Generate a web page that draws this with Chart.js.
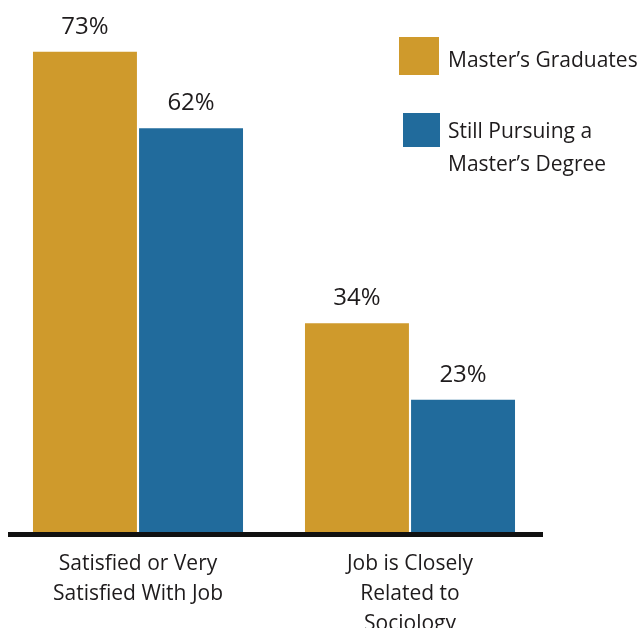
<!DOCTYPE html>
<html>
<head>
<meta charset="utf-8">
<script src="https://cdn.jsdelivr.net/npm/chart.js@4.4.1/dist/chart.umd.min.js"></script>
<style>
  html, body { margin: 0; padding: 0; background: #fff; overflow: hidden; }
  #wrap { position: relative; width: 639px; height: 628px; }
  #chart { position: absolute; left: 0; top: 0; }
  .legend-box { position: absolute; }
  .legend-text {
    position: absolute;
    font-family: 'Open Sans', sans-serif;
    font-size: 21px;
    line-height: 33px;
    color: #1e1b1c;
    white-space: nowrap;
  }
</style>
</head>
<body>
<div id="wrap">
  <canvas id="chart" width="639" height="628"></canvas>
  <div class="legend-box" style="left:399px;top:37px;width:40px;height:38px;background:#cf9a2c;"></div>
  <div class="legend-text" style="left:448px;top:43px;">Master’s Graduates</div>
  <div class="legend-box" style="left:403px;top:113px;width:37px;height:34px;background:#216b9c;"></div>
  <div class="legend-text" style="left:448px;top:114px;">Still Pursuing a<br>Master’s Degree</div>
</div>
<script>
// chart data
const categories = [
  ['Satisfied or Very', 'Satisfied With Job'],
  ['Job is Closely', 'Related to', 'Sociology']
];
const seriesNames = ['Master’s Graduates', 'Still Pursuing a Master’s Degree'];
const graduates = [73, 34];
const pursuing = [62, 23];
const colors = ['#cf9a2c', '#216b9c'];

// value labels above the bars + thick baseline under them
const barLabels = {
  id: 'barLabels',
  afterDatasetsDraw(chart) {
    const ctx = chart.ctx;
    const area = chart.chartArea;
    ctx.save();
    ctx.font = '24px "Open Sans", sans-serif';
    ctx.fillStyle = '#1e1b1c';
    ctx.textAlign = 'center';
    ctx.textBaseline = 'alphabetic';
    chart.data.datasets.forEach((ds, i) => {
      chart.getDatasetMeta(i).data.forEach((bar, j) => {
        ctx.fillText(ds.data[j] + '%', bar.x, bar.y - 18);
      });
    });

    ctx.strokeStyle = '#111';
    ctx.lineWidth = 5;
    ctx.beginPath();
    ctx.moveTo(area.left + 6, area.bottom + 2.5);
    ctx.lineTo(area.right - 3, area.bottom + 2.5);
    ctx.stroke();
    ctx.restore();
  }
};

new Chart(document.getElementById('chart'), {
  type: 'bar',
  data: {
    labels: categories,
    datasets: [
      { label: seriesNames[0], data: graduates, backgroundColor: colors[0] },
      { label: seriesNames[1], data: pursuing, backgroundColor: colors[1] }
    ]
  },
  options: {
    responsive: false,
    animation: false,
    events: [],
    categoryPercentage: 0.78,
    barPercentage: 0.98,
    layout: { padding: { top: 3, left: 2, right: 93, bottom: 0 } },
    plugins: {
      legend: { display: false },
      tooltip: { enabled: false }
    },
    scales: {
      x: {
        grid: { display: false, drawTicks: false },
        border: { display: false },
        ticks: {
          color: '#1e1b1c',
          padding: 17,
          maxRotation: 0,
          autoSkip: false,
          font: { family: 'Open Sans', size: 21, lineHeight: '30px' }
        },
        afterFit(scale) { scale.height = 96; }
      },
      y: {
        display: false,
        min: 4,
        max: 80
      }
    }
  },
  plugins: [barLabels]
});
</script>
</body>
</html>
